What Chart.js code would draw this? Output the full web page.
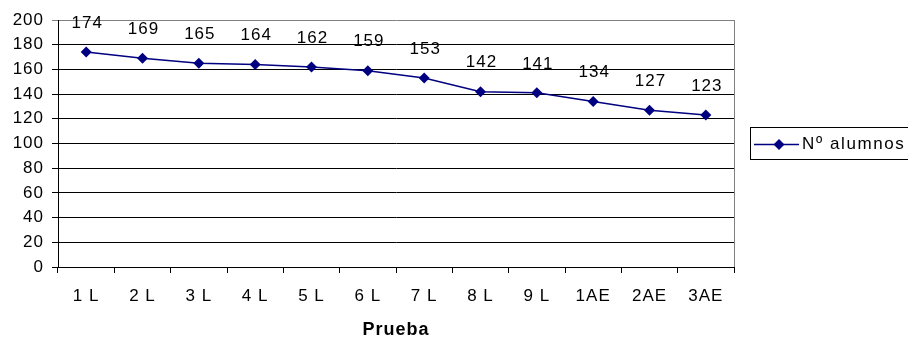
<!DOCTYPE html>
<html>
<head>
<meta charset="utf-8">
<script src="https://cdn.jsdelivr.net/npm/chart.js@4/dist/chart.umd.min.js"></script>
<style>
  html, body { margin: 0; padding: 0; background: #ffffff; }
  #wrap { width: 908px; height: 338px; position: relative; }
</style>
</head>
<body>
<div id="wrap"><canvas id="chart" width="908" height="338"></canvas></div>
<script>
// Prueba categories and the number of students for each one
const categories = ['1 L', '2 L', '3 L', '4 L', '5 L', '6 L', '7 L', '8 L', '9 L', '1AE', '2AE', '3AE'];
const alumnos = [174, 169, 165, 164, 162, 159, 153, 142, 141, 134, 127, 123];
const seriesName = 'Nº alumnos';
const axisTitle = 'Prueba';
const yTicks = [0, 20, 40, 60, 80, 100, 120, 140, 160, 180, 200];

const NAVY = '#000080';
const FONT = "'Liberation Sans', Arial, sans-serif";
const TEXT_SIZE = 17;
const SPACING = '1px';

// slightly open letter spacing for every text drawn on the canvas
const textSpacing = {
  id: 'textSpacing',
  beforeDraw(chart) { chart.ctx.letterSpacing = SPACING; }
};

// value labels above each point
const valueLabels = {
  id: 'valueLabels',
  afterDatasetsDraw(chart) {
    const ctx = chart.ctx;
    const meta = chart.getDatasetMeta(0);
    ctx.save();
    ctx.letterSpacing = SPACING;
    ctx.font = TEXT_SIZE + 'px ' + FONT;
    ctx.fillStyle = '#000000';
    ctx.textAlign = 'center';
    ctx.textBaseline = 'middle';
    meta.data.forEach((pt, i) => {
      ctx.fillText(String(chart.data.datasets[0].data[i]), pt.x + 1, pt.y - 29);
    });
    ctx.restore();
  }
};

// grey frame on the right edge of the plot area
const plotFrame = {
  id: 'plotFrame',
  beforeDatasetsDraw(chart) {
    const { ctx, chartArea: a } = chart;
    ctx.save();
    ctx.strokeStyle = '#808080';
    ctx.lineWidth = 1;
    ctx.beginPath();
    ctx.moveTo(Math.round(a.right) + 0.5, a.top);
    ctx.lineTo(Math.round(a.right) + 0.5, a.bottom);
    ctx.stroke();
    ctx.restore();
  }
};

// boxed legend on the right
const boxLegend = {
  id: 'boxLegend',
  afterDraw(chart) {
    const ctx = chart.ctx;
    const ds = chart.data.datasets[0];
    const x0 = 750.5, y0 = 127.5, w = 170, h = 32;
    const cy = Math.round(y0 + h / 2) + 0.5;
    ctx.save();
    ctx.strokeStyle = '#000000';
    ctx.lineWidth = 1;
    ctx.strokeRect(x0, y0, w, h);
    ctx.strokeStyle = ds.borderColor;
    ctx.lineWidth = ds.borderWidth;
    ctx.beginPath();
    ctx.moveTo(754, cy);
    ctx.lineTo(799, cy);
    ctx.stroke();
    const cx = 779, r = ds.pointRadius;
    ctx.fillStyle = ds.pointBackgroundColor;
    ctx.beginPath();
    ctx.moveTo(cx - r, cy);
    ctx.lineTo(cx, cy - r);
    ctx.lineTo(cx + r, cy);
    ctx.lineTo(cx, cy + r);
    ctx.closePath();
    ctx.fill();
    ctx.fillStyle = '#000000';
    ctx.letterSpacing = '1.6px';
    ctx.font = TEXT_SIZE + 'px ' + FONT;
    ctx.textAlign = 'left';
    ctx.textBaseline = 'middle';
    ctx.fillText(ds.label, 802, cy);
    ctx.restore();
  }
};

new Chart(document.getElementById('chart'), {
  type: 'line',
  data: {
    labels: categories,
    datasets: [{
      label: seriesName,
      data: alumnos,
      borderColor: NAVY,
      backgroundColor: NAVY,
      pointBackgroundColor: NAVY,
      pointBorderColor: NAVY,
      borderWidth: 1.5,
      pointStyle: 'rectRot',
      pointRadius: 5.5,
      pointBorderWidth: 0,
      tension: 0,
      fill: false
    }]
  },
  options: {
    responsive: false,
    animation: false,
    devicePixelRatio: 1,
    layout: { padding: { left: 0, top: 20, right: 174, bottom: 0 } },
    plugins: {
      legend: { display: false },
      tooltip: { enabled: false }
    },
    scales: {
      x: {
        type: 'category',
        offset: true,
        afterFit(scale) { scale.height = 71; },
        border: { color: '#000000', width: 1 },
        grid: {
          display: true,
          offset: true,
          drawOnChartArea: false,
          drawTicks: true,
          tickLength: 6,
          color: '#000000'
        },
        ticks: {
          color: '#000000',
          font: { family: FONT, size: TEXT_SIZE },
          padding: 13,
          maxRotation: 0,
          autoSkip: false
        },
        title: {
          display: true,
          text: axisTitle,
          color: '#000000',
          font: { family: FONT, size: 18, weight: 'bold', lineHeight: 0.9 },
          padding: { top: 0, bottom: 0 }
        }
      },
      y: {
        min: 0,
        max: 200,
        afterFit(scale) { scale.width = 58; },
        afterBuildTicks(scale) { scale.ticks = yTicks.map(v => ({ value: v })); },
        border: { color: '#000000', width: 1 },
        grid: {
          color: (c) => (c.tick && c.tick.value === 200 ? '#808080' : '#000000'),
          lineWidth: 1,
          tickLength: 6,
          drawTicks: true
        },
        ticks: {
          color: '#000000',
          font: { family: FONT, size: TEXT_SIZE },
          padding: 8
        }
      }
    }
  },
  plugins: [textSpacing, valueLabels, plotFrame, boxLegend]
});
</script>
</body>
</html>
